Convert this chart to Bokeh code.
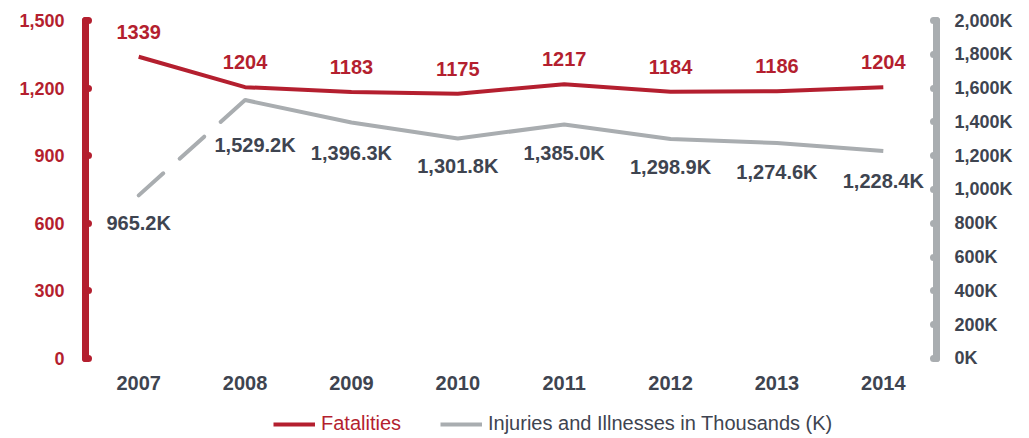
from bokeh.plotting import figure
from bokeh.models import (Range1d, LinearAxis, FixedTicker, NumeralTickFormatter,
                          CustomJSTickFormatter, ColumnDataSource, Legend, LegendItem)
from bokeh.core.properties import value
from bokeh.embed import file_html
from bokeh.resources import INLINE

years = ["2007", "2008", "2009", "2010", "2011", "2012", "2013", "2014"]
fatalities = [1339, 1204, 1183, 1175, 1217, 1184, 1186, 1204]
injuries_k = [965.2, 1529.2, 1396.3, 1301.8, 1385.0, 1298.9, 1274.6, 1228.4]
left_ticks = [0, 300, 600, 900, 1200, 1500]
right_ticks = [0, 200, 400, 600, 800, 1000, 1200, 1400, 1600, 1800, 2000]

RED = "#B41F2F"
GRAY = "#A9ADB0"
DARK = "#3E4450"
FONT = "Liberation Sans"
FS_TICK = "18px"
FS = "20px"

W, H = 1029, 438
# frame spans the full lower area; the value axes are bounded to their data ranges
p = figure(width=W, height=H, x_range=years, y_range=Range1d(-355, 1500),
           output_backend="svg", toolbar_location=None, y_axis_location=None,
           min_border_left=85, min_border_right=93, min_border_top=20, min_border_bottom=0)
p.outline_line_color = None
p.xgrid.grid_line_color = None
p.ygrid.grid_line_color = None
p.extra_y_ranges = {"inj": Range1d(-473.4, 2000)}
p.xaxis.visible = False

def style_axis(ax, line_color, label_color, standoff):
    ax.axis_line_color = line_color
    ax.axis_line_width = 7
    ax.axis_line_cap = "round"
    ax.major_tick_line_color = line_color
    ax.major_tick_line_width = 7
    ax.major_tick_line_cap = "round"
    ax.major_tick_in = 3
    ax.major_tick_out = 0
    ax.minor_tick_line_color = None
    ax.major_label_standoff = standoff
    ax.major_label_text_color = label_color
    ax.major_label_text_font = FONT
    ax.major_label_text_font_style = "bold"
    ax.major_label_text_font_size = FS_TICK

la = LinearAxis(ticker=FixedTicker(ticks=left_ticks), formatter=NumeralTickFormatter(format="0,0"),
                bounds=(left_ticks[0], left_ticks[-1]))
style_axis(la, RED, RED, 21)
p.add_layout(la, "left")

ra = LinearAxis(y_range_name="inj", ticker=FixedTicker(ticks=right_ticks),
                formatter=CustomJSTickFormatter(code="return tick.toLocaleString('en-US') + 'K';"),
                bounds=(right_ticks[0], right_ticks[-1]))
style_axis(ra, GRAY, DARK, 18)
p.add_layout(ra, "right")

# category labels under the value baseline
p.text(x=years, y=[0] * len(years), text=years, text_color=DARK, text_font=value(FONT),
       text_font_style="bold", text_font_size=FS, text_align="center",
       text_baseline="middle", y_offset=24)

# lines
fat_r = p.line(years, fatalities, line_color=RED, line_width=4, line_join="round")
dash_r = p.line(years[:2], injuries_k[:2], y_range_name="inj", line_color=GRAY, line_width=4,
                line_dash="33 22", line_cap="round")
inj_r = p.line(years[1:], injuries_k[1:], y_range_name="inj", line_color=GRAY, line_width=4,
               line_join="round")

# data labels
fat_src = ColumnDataSource(dict(x=years, y=fatalities, t=[str(v) for v in fatalities]))
p.text(x="x", y="y", text="t", source=fat_src, text_color=RED, text_font=value(FONT),
       text_font_style="bold", text_font_size=FS, text_align="center",
       text_baseline="middle", y_offset=-25)

inj_xoff = [0, 10, 0, 0, 0, 0, 0, 0]
inj_yoff = [28, 45, 30, 28, 29, 28, 29, 30]
inj_src = ColumnDataSource(dict(x=years, y=injuries_k, t=[f"{v:,.1f}K" for v in injuries_k],
                                xo=inj_xoff, yo=inj_yoff))
p.text(x="x", y="y", text="t", source=inj_src, y_range_name="inj", text_color=DARK,
       text_font=value(FONT), text_font_style="bold", text_font_size=FS,
       text_align="center", text_baseline="middle", x_offset="xo", y_offset="yo")

# legends (two, for separate label colours)
def mk_legend(label, rend, color, loc):
    return Legend(items=[LegendItem(label=label, renderers=[rend])], location=loc,
                  orientation="horizontal", padding=0, margin=0, spacing=0,
                  glyph_width=42, glyph_height=20, label_height=20, label_standoff=6,
                  label_text_color=color, label_text_font=FONT, label_text_font_size=FS,
                  border_line_color=None, background_fill_alpha=0)

p.add_layout(mk_legend("Fatalities", fat_r, RED, (188, 3)), "center")
p.add_layout(mk_legend("Injuries and Illnesses in Thousands (K)", inj_r, DARK, (355, 3)), "center")

open("out.html", "w").write(file_html(p, INLINE))
